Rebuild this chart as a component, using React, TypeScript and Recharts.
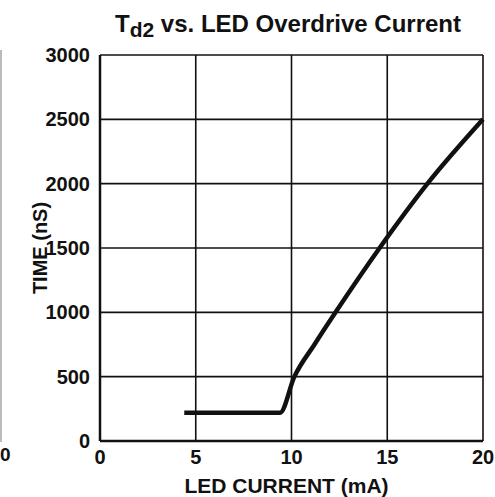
import React from "react";
import {
  LineChart,
  Line,
  XAxis,
  YAxis,
  CartesianGrid,
  Label,
} from "recharts";

// LED current (mA) vs delay time Td2 (nS)
const ledCurrent = [4.4, 9.4, 10.15, 11.2, 12.3, 14.6, 17.1, 20];
const timeNs = [220, 220, 500, 750, 1000, 1500, 2000, 2500];

const xTicks = [0, 5, 10, 15, 20];
const yTicks = [0, 500, 1000, 1500, 2000, 2500, 3000];

const FONT = "'Liberation Sans', Arial, Helvetica, sans-serif";

const YLabel = (props: any) => {
  const { viewBox } = props;
  const cx = viewBox.x + 40;
  const cy = viewBox.y + viewBox.height / 2;
  return (
    <text
      x={cx}
      y={cy}
      transform={`rotate(-90 ${cx} ${cy})`}
      textAnchor="middle"
      dominantBaseline="central"
      fontFamily={FONT}
      fontWeight="bold"
      fontSize={20}
      fill="#111"
    >
      TIME (nS)
    </text>
  );
};

const XLabel = (props: any) => {
  const { viewBox } = props;
  const cx = viewBox.x + viewBox.width / 2 - 5;
  return (
    <text
      x={cx}
      y={viewBox.y + 52}
      textAnchor="middle"
      fontFamily={FONT}
      fontWeight="bold"
      fontSize={21}
      fill="#111"
    >
      LED CURRENT (mA)
    </text>
  );
};

const App: React.FC = () => {
  const data = ledCurrent.map((c, i) => ({ current: c, time: timeNs[i] }));

  return (
    <div style={{ position: "absolute", left: 0, top: 0, width: 495, height: 497, background: "#fff", fontFamily: FONT }}>
      {/* bits of the neighbouring chart, cut off at the left edge */}
      <div style={{ position: "absolute", left: 0, top: 50, width: 2, height: 392, background: "#bbb" }} />
      <div style={{ position: "absolute", left: 0, top: 444, fontWeight: "bold", fontSize: 19, color: "#111" }}>0</div>

      <div
        style={{
          position: "absolute",
          left: 100,
          top: 10,
          width: 376,
          textAlign: "center",
          fontWeight: "bold",
          fontSize: 24,
          lineHeight: "28px",
          color: "#111",
          whiteSpace: "nowrap",
        }}
      >
        T<sub style={{ fontSize: 21, verticalAlign: "-5px", lineHeight: 0 }}>d2</sub> vs. LED Overdrive Current
      </div>

      <LineChart
        width={495}
        height={497}
        data={data}
        margin={{ top: 55, right: 12, bottom: 0, left: 0 }}
      >
        <CartesianGrid stroke="#111" strokeWidth={1.6} horizontalValues={yTicks} verticalValues={xTicks} />
        <XAxis
          dataKey="current"
          type="number"
          domain={[0, 20]}
          ticks={xTicks}
          height={56}
          tickLine={false}
          tickSize={0}
          tickMargin={9}
          axisLine={{ stroke: "#111", strokeWidth: 2.5 }}
          tick={{ fill: "#111", fontSize: 20, fontWeight: "bold", fontFamily: FONT }}
          interval={0}
        >
          <Label content={<XLabel />} />
        </XAxis>
        <YAxis
          dataKey="time"
          type="number"
          domain={[0, 3000]}
          ticks={yTicks}
          width={100}
          tickLine={false}
          tickSize={0}
          tickMargin={10}
          axisLine={{ stroke: "#111", strokeWidth: 2.5 }}
          tick={{ fill: "#111", fontSize: 20, fontWeight: "bold", fontFamily: FONT }}
          interval={0}
        >
          <Label content={<YLabel />} />
        </YAxis>
        <Line
          type="monotone"
          dataKey="time"
          stroke="#111"
          strokeWidth={4.5}
          dot={false}
          isAnimationActive={false}
        />
      </LineChart>
    </div>
  );
};

export default App;
